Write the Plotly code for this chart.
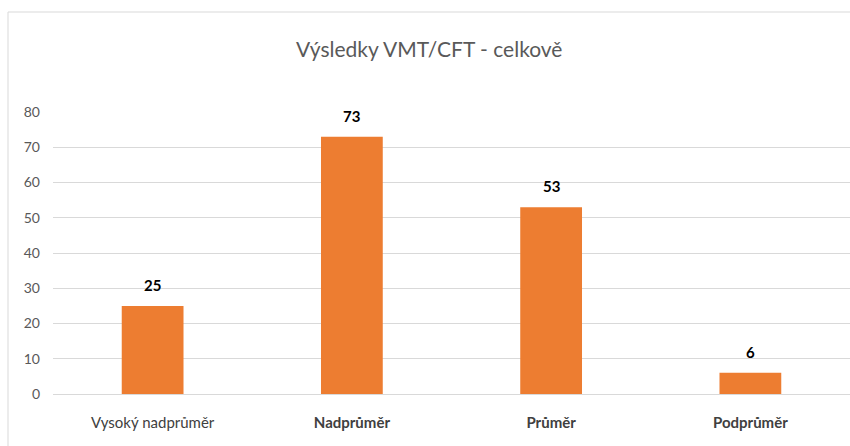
import plotly.graph_objects as go

categories = ["Vysoký nadprůměr", "Nadprůměr", "Průměr", "Podprůměr"]
tick_text = ["Vysoký nadprůměr", "<b>Nadprůměr</b>", "<b>Průměr</b>", "<b>Podprůměr</b>"]
values = [25, 73, 53, 6]
title_text = "Výsledky VMT/CFT - celkově"
y_ticks = [0, 10, 20, 30, 40, 50, 60, 70, 80]

FONT = "Lato, 'Open Sans', sans-serif"

fig = go.Figure()
fig.add_trace(go.Bar(
    x=categories, y=values,
    marker=dict(color="#ED7D31", line=dict(width=0)),
    hoverinfo="skip",
))

for c, v in zip(categories, values):
    fig.add_annotation(
        x=c, y=v, text="<b>%d</b>" % v, showarrow=False,
        yanchor="bottom", yshift=10,
        font=dict(family=FONT, size=15, color="#000000"),
    )

fig.update_layout(
    width=850, height=446,
    margin=dict(l=53, r=0, t=112, b=52),
    paper_bgcolor="white", plot_bgcolor="white",
    showlegend=False,
    bargap=0.69,
    title=dict(text=title_text, x=0.505, xanchor="center", y=0.888, yanchor="middle",
               font=dict(family=FONT, size=21, color="#595959")),
    xaxis=dict(
        tickmode="array", tickvals=categories, ticktext=tick_text,
        tickfont=dict(family=FONT, size=15, color="#404040"),
        showgrid=False, showline=False, zeroline=False,
        ticks="", ticklabelstandoff=18,
    ),
    yaxis=dict(
        range=[0, 80], tickmode="array", tickvals=y_ticks,
        tickfont=dict(family=FONT, size=14, color="#595959"),
        showgrid=True, gridcolor="#D9D9D9", gridwidth=1,
        zeroline=True, zerolinecolor="#D9D9D9", zerolinewidth=1,
        showline=False, ticks="", ticklabelstandoff=12,
    ),
    shapes=[dict(
        type="rect", xref="paper", yref="paper",
        x0=(8 - 53) / 797, x1=1.05, y0=-0.5, y1=(394 - 12) / 282,
        line=dict(color="#D9D9D9", width=1), layer="below",
    )],
)

fig.write_html(
    "out.html",
    config={"displayModeBar": False},
    post_script="document.body.style.margin='0';document.body.style.overflow='hidden';",
)
